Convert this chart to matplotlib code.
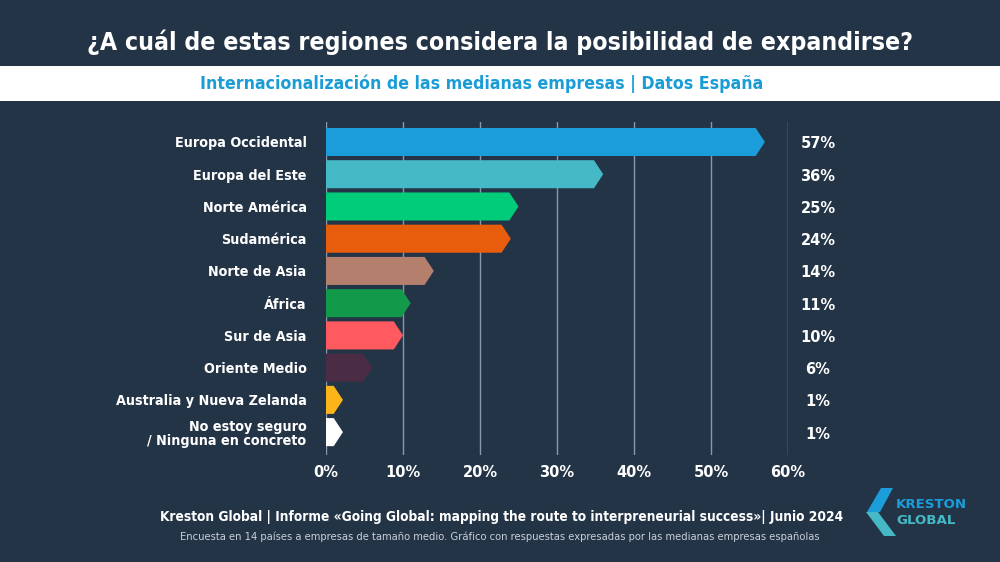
import matplotlib
matplotlib.use("Agg")
import matplotlib.pyplot as plt
from matplotlib.patches import Polygon, Rectangle
import matplotlib.transforms as mtransforms

categories = ["Europa Occidental", "Europa del Este", "Norte América", "Sudamérica",
              "Norte de Asia", "África", "Sur de Asia", "Oriente Medio",
              "Australia y Nueva Zelanda", "No estoy seguro\n/ Ninguna en concreto"]
values = [57, 36, 25, 24, 14, 11, 10, 6, 1, 1]
colors = ["#1b9dd9", "#45b9c6", "#00cc7a", "#e85d0c", "#b47f6c", "#12994a",
          "#ff5a5f", "#4a2c44", "#fbb41a", "#ffffff"]
xticks = [0, 10, 20, 30, 40, 50, 60]
xtick_labels = ["0%", "10%", "20%", "30%", "40%", "50%", "60%"]

BG = "#243447"
fig = plt.figure(figsize=(10, 5.62), dpi=100, facecolor=BG)

# header
fig.patches.append(Rectangle((0, 1 - 101/562), 1, 35/562, transform=fig.transFigure,
                             facecolor="white", edgecolor="none", zorder=0))
fig.text(0.5, 1 - 42/562, "¿A cuál de estas regiones considera la posibilidad de expandirse?",
         ha="center", va="center", color="white", fontsize=17.8, fontweight="bold",
         fontstretch="condensed", family="DejaVu Sans")
fig.text(0.482, 1 - 84/562, "Internacionalización de las medianas empresas | Datos España",
         ha="center", va="center", color="#1a9dd6", fontsize=12.7, fontweight="bold",
         fontstretch="condensed", family="DejaVu Sans")

ax = fig.add_axes([0.326, 1 - 455/562, 0.462, (455 - 122)/562])
ax.set_facecolor(BG)
ax.set_xlim(0, 60)
ax.set_ylim(len(values) - 1 + 0.71, -0.62)
for s in ax.spines.values():
    s.set_visible(False)
ax.set_xticks(xticks)
ax.set_xticklabels(xtick_labels, color="white", fontsize=10.5, fontweight="bold")
ax.tick_params(axis="x", length=0, pad=7)
ax.set_yticks(range(len(categories)))
ax.set_yticklabels(categories, color="white", fontsize=10.3, fontweight="bold",
                   fontstretch="condensed", linespacing=1.0)
ax.tick_params(axis="y", length=0, pad=14)
for t in ax.get_yticklabels():
    t.set_horizontalalignment("right")
for x in xticks:
    ax.axvline(x, color="#8a99aa", lw=1, zorder=1)

h = 0.87
d = 1.2
for i, (v, c) in enumerate(zip(values, colors)):
    flat = max(v - d, 1.0)
    tip = flat + d
    pts = [(0, i - h/2), (flat, i - h/2), (tip, i), (flat, i + h/2), (0, i + h/2)]
    ax.add_patch(Polygon(pts, closed=True, facecolor=c, edgecolor="none", zorder=3))

trans = mtransforms.blended_transform_factory(fig.transFigure, ax.transData)
for i, v in enumerate(values):
    fig.text(0.818, i + 0.06, f"{v}%", transform=trans, ha="center", va="center",
             color="white", fontsize=10.5, fontweight="bold")

# footer
fig.text(0.502, 1 - 517/562,
         "Kreston Global | Informe «Going Global: mapping the route to interpreneurial success»| Junio 2024",
         ha="center", va="center", color="white", fontsize=9.85, fontweight="bold",
         fontstretch="condensed")
fig.text(0.5, 1 - 537/562,
         "Encuesta en 14 países a empresas de tamaño medio. Gráfico con respuestas expresadas por las medianas empresas españolas",
         ha="center", va="center", color="#c8d0d8", fontsize=7.2)

# logo
def fpt(x, y):
    return (x / 1000, 1 - y / 562)
fig.patches.append(Polygon([fpt(881, 488), fpt(893, 488), fpt(880, 512), fpt(867, 512)],
                           closed=True, transform=fig.transFigure, facecolor="#1b9dd9",
                           edgecolor="none"))
fig.patches.append(Polygon([fpt(866, 512), fpt(878, 512), fpt(896, 536), fpt(884, 536)],
                           closed=True, transform=fig.transFigure, facecolor="#45b9c6",
                           edgecolor="none"))
fig.text(0.896, 1 - 504/562, "KRESTON", ha="left", va="center", color="#1b9dd9",
         fontsize=9.6, fontweight="bold")
fig.text(0.896, 1 - 520/562, "GLOBAL", ha="left", va="center", color="#45b9c6",
         fontsize=9.6, fontweight="bold")

fig.savefig("out.png", dpi=100, facecolor=BG)
